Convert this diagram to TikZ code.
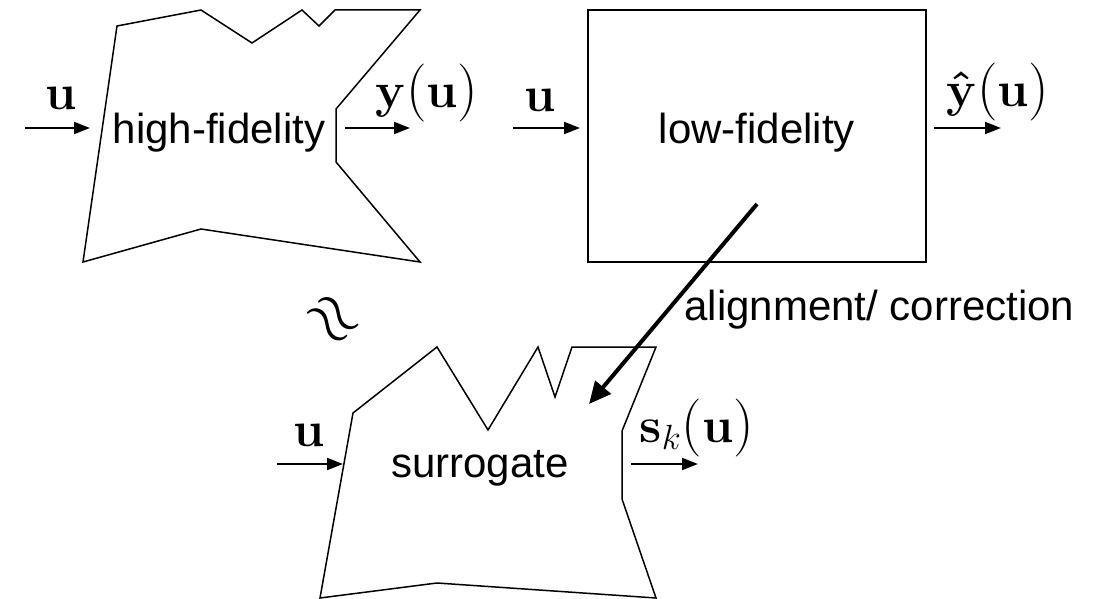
\RequirePackage{fix-cm}
\documentclass[tikz,border=0pt]{standalone}
\usepackage[no-math]{fontspec}
\newfontfamily\hv{Liberation Sans}
\usetikzlibrary{arrows.meta}
\newcommand{\pp}[1]{{\fontsize{29}{29}\selectfont #1}}
\begin{document}
\begin{tikzpicture}[x=0.5pt,y=-0.5pt,
  outline/.style={line width=0.75pt, line join=miter},
  lbl/.style={font=\hv\fontsize{21}{25}\selectfont, inner sep=0pt, anchor=base},
  mth/.style={font=\fontsize{25}{29}\selectfont, inner sep=0pt, anchor=base},
  arr/.style={line width=1pt, -{Triangle[length=8pt,width=6pt]}},
  bigarr/.style={line width=2pt, -{Triangle[length=11pt,width=10pt]}}]
\useasboundingbox (0,0) rectangle (1119,599);

% high-fidelity outline
\draw[outline] (117,26) -- (201,10) -- (252,43) -- (302,10) -- (319,26) -- (335,10)
  -- (420,10) -- (336,109) -- (336,162) -- (420,262) -- (201,229) -- (83,262) -- cycle;
\node[lbl] (hft) at (219,143) {high-fidelity};

% low-fidelity box
\node[draw, line width=0.75pt, minimum width=169pt, minimum height=126pt, inner sep=0pt] (lf) at (757,136) {};
\node[lbl] (lft) at (757,143) {low-fidelity};

% surrogate outline
\draw[outline] (353,413) -- (437,347) -- (488,430) -- (538,347) -- (555,397) -- (572,347)
  -- (656,347) -- (622,431) -- (622,499) -- (656,598) -- (437,583) -- (320,598) -- cycle;
\node[lbl] (st) at (480,477) {surrogate};

% arrow end points
\coordinate (hfa) at (25,128);  \coordinate (hfb) at (90,128);
\coordinate (hfc) at (345,128); \coordinate (hfd) at (410,128);
\coordinate (lfa) at (513,128); \coordinate (lfb) at (580,128);
\coordinate (lfc) at (934,128); \coordinate (lfd) at (1001,128);
\coordinate (sa) at (277,464);  \coordinate (sb) at (343,464);
\coordinate (sc) at (631,464);  \coordinate (sd) at (698,464);
\coordinate (ala) at (757,204); \coordinate (alb) at (589,404);

\draw[arr] (hfa) -- (hfb);
\draw[arr] (hfc) -- (hfd);
\draw[arr] (lfa) -- (lfb);
\draw[arr] (lfc) -- (lfd);
\draw[arr] (sa) -- (sb);
\draw[arr] (sc) -- (sd);
\draw[bigarr] (ala) -- (alb);

% labels
\node[mth] (u1) at (61,110) {$\mathbf{u}$};
\node[mth] (yu) at (427,108) {$\mathbf{y}$\pp{(}$\mathbf{u}$\pp{)}};
\node[mth] (u2) at (540,112) {$\mathbf{u}$};
\node[mth] (yhu) at (998,107) {$\mathbf{\hat{y}}$\pp{(}$\mathbf{u}$\pp{)}};
\node[mth] (u3) at (309,446) {$\mathbf{u}$};
\node[mth] (sku) at (697,442) {$\mathbf{s}_k$\pp{(}$\mathbf{u}$\pp{)}};
\node[lbl, anchor=base west] (al) at (684,320) {alignment/ correction};
\node[font=\fontsize{34}{34}\selectfont, inner sep=0pt, rotate=-45] (approx) at (332,321) {$\approx$};
\end{tikzpicture}
\end{document}
